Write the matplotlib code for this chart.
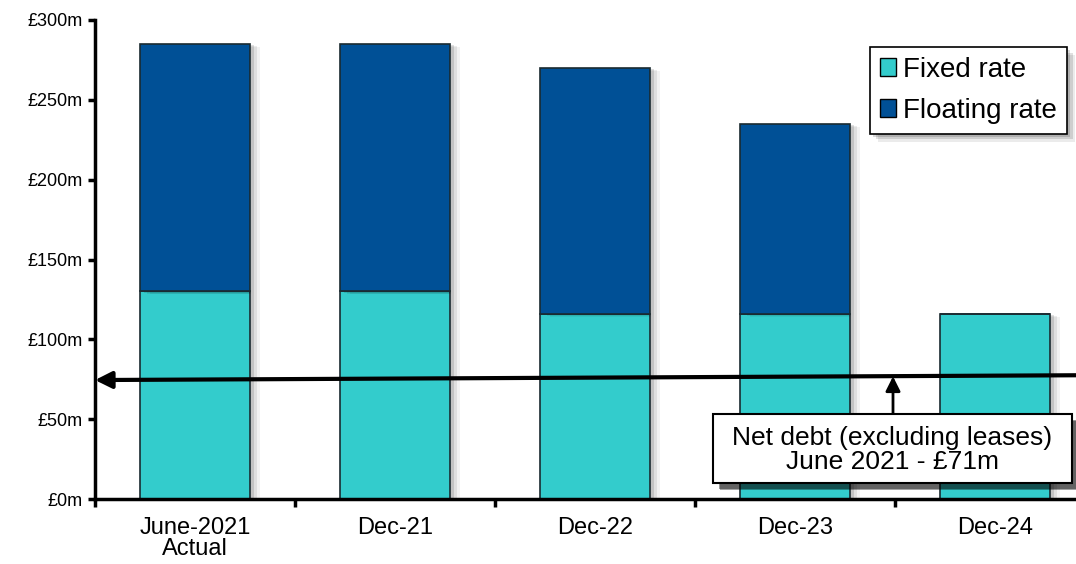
import matplotlib.pyplot as plt
import matplotlib.patheffects as pe
from matplotlib.patches import Rectangle
from matplotlib.ticker import FuncFormatter
import numpy as np

plt.rcParams['font.family'] = ['Liberation Sans', 'DejaVu Sans']

periods = ['June-2021\nActual', 'Dec-21', 'Dec-22', 'Dec-23', 'Dec-24']
fixed_rate = [130, 130, 116, 116, 116]
floating_rate = [155, 155, 154, 119, 0]
net_debt_label = 'Net debt (excluding leases)\nJune 2021 - £71m'
# the hand-drawn net debt line, left and right ends
line_y = [74.5, 77.5]

fixed_col = '#33CCCC'
float_col = '#005096'

fig = plt.figure(figsize=(10.76, 5.64), dpi=100)
ax = fig.add_axes([95 / 1076, 1 - 499 / 564, 1 - 95 / 1076, (499 - 20) / 564])


def soft_shadow(layers):
    return [pe.SimplePatchShadow(offset=(d, -d * k), shadow_rgbFace='#000000', alpha=a)
            for d, k, a in layers] + [pe.Normal()]


x = np.arange(len(periods))
bar_shadow = soft_shadow([(7, 0.3, 0.05), (5, 0.3, 0.08), (3, 0.3, 0.12)])

b1 = ax.bar(x, fixed_rate, width=0.55, color=fixed_col, edgecolor='#1a2a30',
            linewidth=1.2, label='Fixed rate', zorder=2)
b2 = ax.bar(x, floating_rate, bottom=fixed_rate, width=0.55, color=float_col,
            edgecolor='#1a2a30', linewidth=1.2, label='Floating rate', zorder=2)
for r in list(b1) + list(b2):
    if r.get_height() > 0:
        r.set_path_effects(bar_shadow)

ax.set_xlim(-0.5, 4.405)
ax.set_ylim(0, 300)
ax.set_yticks(np.arange(0, 301, 50))
ax.yaxis.set_major_formatter(FuncFormatter(lambda v, p: f'£{v:.0f}m'))
ax.set_xticks(x)
ax.set_xticklabels(periods, fontsize=17, linespacing=0.95)
ax.set_xticks(np.arange(-0.5, 4.5, 1), minor=True)
ax.tick_params(axis='x', which='major', length=0, pad=13)
ax.tick_params(axis='x', which='minor', length=6, width=2.5, direction='out')
ax.tick_params(axis='y', length=5, width=2.5, labelsize=13, pad=4)

for s in ['top', 'right']:
    ax.spines[s].set_visible(False)
for s in ['left', 'bottom']:
    ax.spines[s].set_linewidth(2.5)

# net debt line with arrow pointing at the y axis
ax.annotate('', xy=(-0.5, line_y[0]), xytext=(4.405, line_y[1]),
            arrowprops=dict(arrowstyle='-|>', lw=3, color='black',
                            mutation_scale=25, shrinkA=0, shrinkB=0),
            annotation_clip=False, zorder=4)

# label box with pointer up to the line
box_x0, box_x1, box_y0, box_y1 = 2.59, 4.385, 10, 53
ax.annotate('', xy=(3.49, 76.8), xytext=(3.49, box_y1),
            arrowprops=dict(arrowstyle='-|>', lw=2, color='black',
                            mutation_scale=22, shrinkA=0, shrinkB=0), zorder=4)
box = Rectangle((box_x0, box_y0), box_x1 - box_x0, box_y1 - box_y0,
                facecolor='white', edgecolor='black', linewidth=1.5, zorder=5)
box.set_path_effects(soft_shadow([(5, 1, 0.35), (4, 1, 0.4)]))
ax.add_patch(box)
ax.text((box_x0 + box_x1) / 2, (box_y0 + box_y1) / 2 - 0.5, net_debt_label,
        ha='center', va='center', fontsize=19, linespacing=1.0, zorder=6)

leg = ax.legend(loc='upper right', bbox_to_anchor=((1067 - 95) / 981, (499 - 47) / 479),
                bbox_transform=ax.transAxes, fontsize=20, frameon=True, fancybox=False,
                framealpha=1, shadow=False, handlelength=0.6, handleheight=0.6,
                handletextpad=0.25, borderpad=0.35, labelspacing=0.55, borderaxespad=0)
frame = leg.get_frame()
frame.set_facecolor('white')
frame.set_edgecolor('black')
frame.set_linewidth(1.2)
frame.set_path_effects(soft_shadow([(6, 1, 0.08), (4, 1, 0.12), (2, 1, 0.15)]))
for h in leg.legend_handles:
    h.set_edgecolor('black')
    h.set_linewidth(1.0)
    h.set_path_effects([])

fig.savefig('out.png', dpi=100)
